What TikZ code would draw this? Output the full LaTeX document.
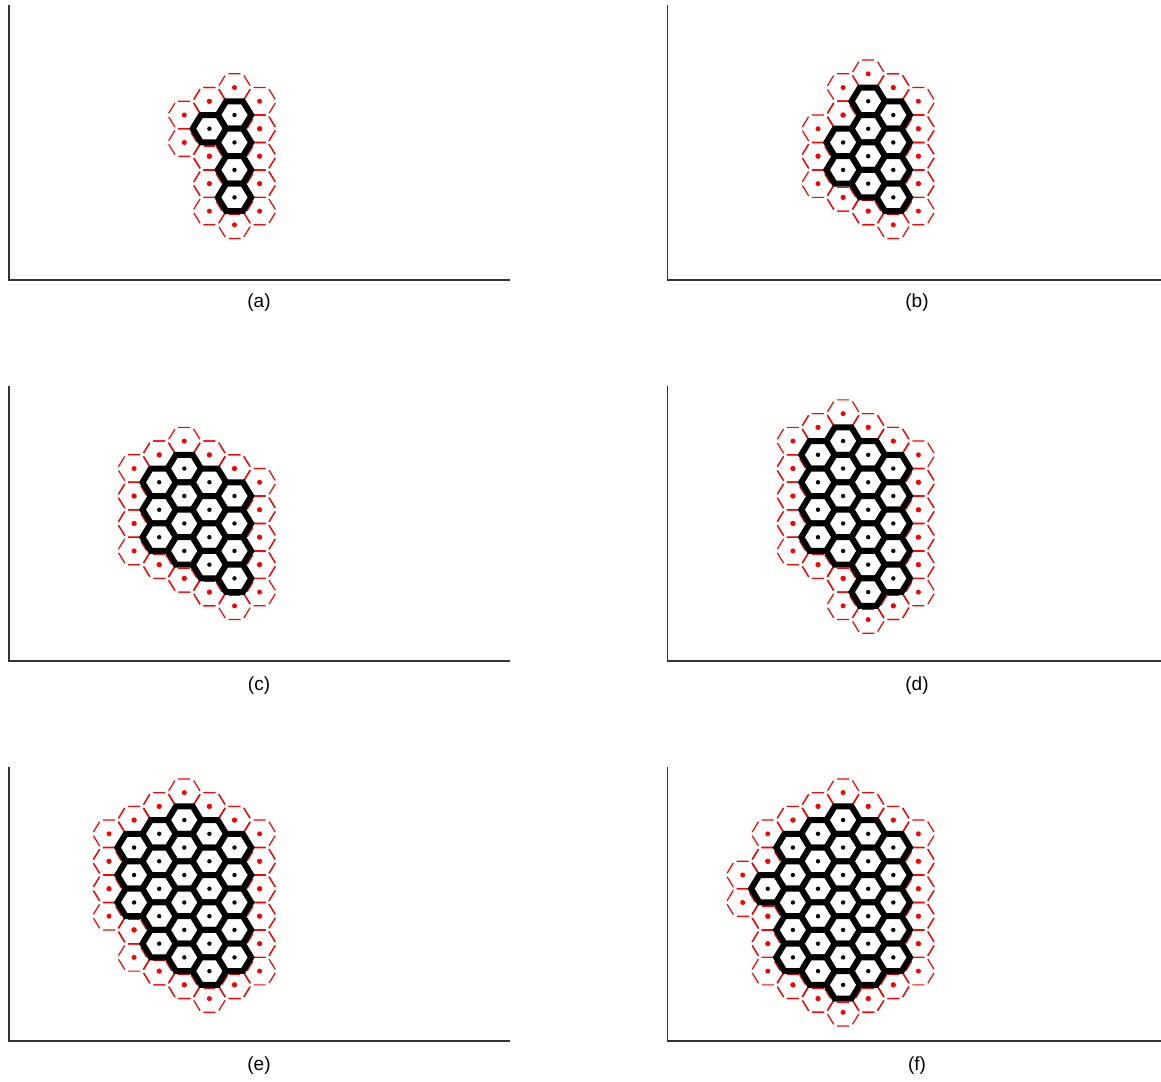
\documentclass[tikz,border=0pt]{standalone}
\usepackage{fontspec}
\setmainfont{Liberation Sans}
\begin{document}
\begin{tikzpicture}[x=1pt,y=-1pt]
\def\dx{25.1}\def\hh{13.73}\def\RR{16.73}
\def\oo{3.5}
\tikzset{
 axisline/.style={draw=black!80, line width=1.3pt},
 redhex/.style={draw=red, line width=1.2pt, dash pattern=on 12pt off 4.3pt, dash phase=14pt},
 redfringe/.style={draw=red, line width=1.1pt, shorten <=2.5pt, shorten >=2.5pt},
 blackhex/.style={draw=black, fill=white, line width=6pt, line join=miter},
 reddot/.style={fill=red},
 blackdot/.style={fill=black},
 caption/.style={font=\fontsize{19}{22}\selectfont, anchor=center, inner sep=0pt}
}
\useasboundingbox (0,0) rectangle (1161,1081);
\newcommand\drawpanel[3]{%
 \foreach \k/\m in {#3} {
   \pgfmathsetmacro\cx{#1+\k*\dx}
   \pgfmathsetmacro\cy{#2+\m*\hh}
   \foreach \ddx/\ddy in {0/-2,0/2,1/-1,1/1,-1/-1,-1/1} {
     \pgfmathsetmacro\nx{\cx+\ddx*\dx}
     \pgfmathsetmacro\ny{\cy+\ddy*\hh}
     \draw[redhex] (\nx,\ny) ++(-\RR/2,-\hh) -- ++(\RR,0) -- ++(\RR/2,\hh) -- ++(-\RR/2,\hh) -- ++(-\RR,0) -- ++(-\RR/2,-\hh) -- cycle;
     \fill[reddot] (\nx,\ny) circle[radius=2.5pt];
   }
 }
 \foreach \k/\m in {#3} {
   \pgfmathsetmacro\cx{#1+\k*\dx}
   \pgfmathsetmacro\cy{#2+\m*\hh}
   \draw[redfringe] ([shift={(-\RR/2,\hh+\oo)}]\cx,\cy) -- ([shift={(\RR/2,\hh+\oo)}]\cx,\cy);
   \draw[redfringe] ([shift={(-\RR-0.854*\oo,0.52*\oo)}]\cx,\cy) -- ([shift={(-\RR/2-0.854*\oo,\hh+0.52*\oo)}]\cx,\cy);
   \draw[redfringe] ([shift={(\RR+0.854*\oo,0.52*\oo)}]\cx,\cy) -- ([shift={(\RR/2+0.854*\oo,\hh+0.52*\oo)}]\cx,\cy);
 }
 \foreach \k/\m in {#3} {
   \pgfmathsetmacro\cx{#1+\k*\dx}
   \pgfmathsetmacro\cy{#2+\m*\hh}
   \draw[blackhex] (\cx,\cy) ++(-\RR/2,-\hh) -- ++(\RR,0) -- ++(\RR/2,\hh) -- ++(-\RR/2,\hh) -- ++(-\RR,0) -- ++(-\RR/2,-\hh) -- cycle;
   \fill[blackdot] (\cx,\cy) circle[radius=2.2pt];
 }
}
% axes
\foreach \yt/\yb in {5/280, 386/661, 767/1041} {
  \draw[axisline] (9,\yt) -- (9,\yb) -- (510,\yb);
  \draw[axisline] (667.5,\yt) -- (667.5,\yb) -- (1161,\yb);
}
% panels
\drawpanel{234.5}{115}{0/0,-1/1,0/2,0/4,0/6}
\drawpanel{893.3}{115}{-1/-1,0/0,-1/1,-2/2,0/2,-1/3,-2/4,0/4,-1/5,0/6}
\drawpanel{234.5}{496}{-3/-1,-3/1,-3/3,-2/-2,-2/0,-2/2,-2/4,-1/-1,-1/1,-1/3,-1/5,0/0,0/2,0/4,0/6}
\drawpanel{893.3}{496}{-3/-3,-3/-1,-3/1,-3/3,-2/-4,-2/-2,-2/0,-2/2,-2/4,-1/-3,-1/-1,-1/1,-1/3,-1/5,-1/7,0/-2,0/0,0/2,0/4,0/6}
\drawpanel{234.5}{875}{-4/-2,-4/0,-4/2,-3/-3,-3/-1,-3/1,-3/3,-3/5,-2/-4,-2/-2,-2/0,-2/2,-2/4,-2/6,-1/-3,-1/-1,-1/1,-1/3,-1/5,-1/7,0/-2,0/0,0/2,0/4,0/6}
\drawpanel{893.3}{875}{-5/1,-4/-2,-4/0,-4/2,-4/4,-4/6,-3/-3,-3/-1,-3/1,-3/3,-3/5,-3/7,-2/-4,-2/-2,-2/0,-2/2,-2/4,-2/6,-2/8,-1/-3,-1/-1,-1/1,-1/3,-1/5,-1/7,0/-2,0/0,0/2,0/4,0/6}
% captions
\node[caption] (capa) at (259,303) {(a)};
\node[caption] (capb) at (917,303) {(b)};
\node[caption] (capc) at (259,686) {(c)};
\node[caption] (capd) at (917,686) {(d)};
\node[caption] (cape) at (259,1066) {(e)};
\node[caption] (capf) at (917,1066) {(f)};
\end{tikzpicture}
\end{document}
